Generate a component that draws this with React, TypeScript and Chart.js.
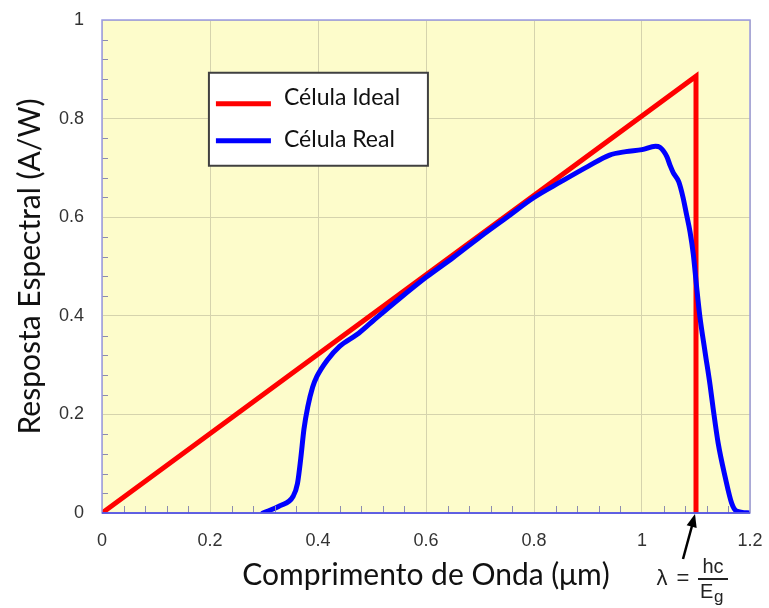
import React, { useEffect, useRef } from "react";
import { Chart, registerables } from "chart.js";

Chart.register(...registerables);

// Ideal cell: linear response up to the cutoff wavelength, then drops to zero
const idealX = [0, 1.1, 1.1];
const idealY = [0, 0.886, 0];

// Real cell: measured spectral response
const realX = [
  0.298, 0.33, 0.354, 0.362, 0.368, 0.374, 0.381, 0.39, 0.398, 0.417, 0.44, 0.472,
  0.5, 0.55, 0.6, 0.65, 0.7, 0.75, 0.8, 0.85, 0.9, 0.94, 0.97, 1.0, 1.025, 1.033,
  1.046, 1.052, 1.058, 1.068, 1.076, 1.082, 1.089, 1.095, 1.101, 1.107, 1.117, 1.126,
  1.132, 1.141, 1.154, 1.166, 1.175, 1.2,
];
const realY = [
  0.0, 0.015, 0.034, 0.06, 0.11, 0.17, 0.215, 0.255, 0.277, 0.31, 0.338, 0.362,
  0.388, 0.434, 0.478, 0.518, 0.56, 0.6, 0.64, 0.672, 0.703, 0.726, 0.733, 0.737,
  0.744, 0.742, 0.723, 0.705, 0.69, 0.672, 0.64, 0.608, 0.57, 0.525, 0.46, 0.4,
  0.325, 0.26, 0.21, 0.142, 0.073, 0.02, 0.004, 0.0,
];

const xMin = 0;
const xMax = 1.2;
const yMin = 0;
const yMax = 1;
const majorStep = 0.2;
const minorStep = 0.04;

const legendLabels = ["Célula Ideal", "Célula Real"];
const xTitle = "Comprimento de Onda (\u03bcm)";
const yTitle = "Resposta Espectral (A/W)";

const RED = "#ff0000";
const BLUE = "#0000ff";

const fmt = (v: number) => String(Number(v.toFixed(2)));

export default function App() {
  const ref = useRef<HTMLCanvasElement | null>(null);

  useEffect(() => {
    const canvas = ref.current;
    if (!canvas) return;

    const plotDecor = {
      id: "plotDecor",
      beforeDraw(chart: any) {
        const { ctx, chartArea: a } = chart;
        ctx.save();
        ctx.fillStyle = "#fdfccb";
        ctx.fillRect(a.left, a.top, a.right - a.left, a.bottom - a.top);
        ctx.restore();
      },
      afterDatasetsDraw(chart: any) {
        const { ctx, chartArea: a, scales } = chart;
        const xs = scales.x;
        const ys = scales.y;
        ctx.save();
        // minor ticks along the bottom and left edges
        ctx.strokeStyle = "#8c8cb0";
        ctx.lineWidth = 1;
        const nx = Math.round((xMax - xMin) / minorStep);
        for (let i = 1; i < nx; i++) {
          if (i % 5 === 0) continue;
          const px = Math.round(xs.getPixelForValue(xMin + i * minorStep)) + 0.5;
          ctx.beginPath();
          ctx.moveTo(px, a.bottom);
          ctx.lineTo(px, a.bottom - 7);
          ctx.stroke();
        }
        const ny = Math.round((yMax - yMin) / minorStep);
        for (let i = 1; i < ny; i++) {
          if (i % 5 === 0) continue;
          const py = Math.round(ys.getPixelForValue(yMin + i * minorStep)) + 0.5;
          ctx.beginPath();
          ctx.moveTo(a.left, py);
          ctx.lineTo(a.left + 6, py);
          ctx.stroke();
        }
        // frame
        ctx.strokeStyle = "#9a9ae2";
        ctx.lineWidth = 1.5;
        ctx.strokeRect(a.left, a.top, a.right - a.left, a.bottom - a.top);
        ctx.strokeStyle = "#4646e6";
        ctx.beginPath();
        ctx.moveTo(a.left, a.bottom);
        ctx.lineTo(a.right, a.bottom);
        ctx.stroke();
        ctx.restore();
      },
      afterDraw(chart: any) {
        const { ctx, scales } = chart;
        const xs = scales.x;
        const ys = scales.y;
        ctx.save();

        // legend box
        const lx = xs.getPixelForValue(0.198);
        const ly = ys.getPixelForValue(0.893);
        const lw = 219;
        const lh = 93;
        ctx.fillStyle = "#ffffff";
        ctx.fillRect(lx, ly, lw, lh);
        ctx.strokeStyle = "#404040";
        ctx.lineWidth = 2;
        ctx.strokeRect(lx, ly, lw, lh);
        const colors = [RED, BLUE];
        const rows = [31, 68];
        ctx.font = '23px Lato, "Liberation Sans", sans-serif';
        ctx.textBaseline = "middle";
        ctx.textAlign = "left";
        legendLabels.forEach((label, i) => {
          ctx.strokeStyle = colors[i];
          ctx.lineWidth = 5;
          ctx.beginPath();
          ctx.moveTo(lx + 7, ly + rows[i]);
          ctx.lineTo(lx + 62, ly + rows[i]);
          ctx.stroke();
          ctx.fillStyle = "#111111";
          ctx.fillText(label, lx + 75, ly + rows[i] - (i === 0 ? 6 : 1));
        });

        // cutoff wavelength annotation
        const tx = xs.getPixelForValue(idealX[1]);
        const ty = ys.getPixelForValue(0);
        const tipX = tx - 1;
        const tipY = ty + 1;
        const tailX = tx - 13;
        const tailY = ty + 46;
        ctx.strokeStyle = "#000000";
        ctx.fillStyle = "#000000";
        ctx.lineWidth = 2.5;
        ctx.beginPath();
        ctx.moveTo(tailX, tailY);
        ctx.lineTo(tipX - 2.5, tipY + 10);
        ctx.stroke();
        const ang = Math.atan2(tipY - tailY, tipX - tailX);
        ctx.beginPath();
        ctx.moveTo(tipX, tipY);
        ctx.lineTo(tipX - 14 * Math.cos(ang - 0.38), tipY - 14 * Math.sin(ang - 0.38));
        ctx.lineTo(tipX - 14 * Math.cos(ang + 0.38), tipY - 14 * Math.sin(ang + 0.38));
        ctx.closePath();
        ctx.fill();

        ctx.fillStyle = "#222222";
        ctx.font = '22px "Liberation Sans", Arial, sans-serif';
        ctx.textBaseline = "middle";
        ctx.textAlign = "center";
        ctx.fillText("\u03bb", tx - 34, ty + 66);
        ctx.fillText("=", tx - 13, ty + 66);
        ctx.font = '20px "Liberation Sans", Arial, sans-serif';
        ctx.fillText("hc", tx + 17, ty + 54);
        ctx.fillRect(tx + 2, ty + 65, 30, 2);
        ctx.textAlign = "left";
        ctx.fillText("E", tx + 4, ty + 79);
        ctx.font = '17px "Liberation Sans", Arial, sans-serif';
        ctx.fillText("g", tx + 18, ty + 84);
        ctx.restore();
      },
    };

    const chart = new Chart(canvas, {
      type: "scatter",
      data: {
        datasets: [
          {
            label: legendLabels[1],
            data: realX.map((x, i) => ({ x, y: realY[i] })),
            showLine: true,
            borderColor: BLUE,
            borderWidth: 5,
            pointRadius: 0,
            cubicInterpolationMode: "monotone",
            borderJoinStyle: "round",
            borderCapStyle: "round",
            order: 0,
          },
          {
            label: legendLabels[0],
            data: idealX.map((x, i) => ({ x, y: idealY[i] })),
            showLine: true,
            borderColor: RED,
            borderWidth: 5,
            pointRadius: 0,
            tension: 0,
            borderJoinStyle: "miter",
            order: 1,
          },
        ],
      },
      options: {
        responsive: false,
        animation: false,
        layout: { padding: { top: 20, right: 19, left: 0, bottom: 0 } },
        plugins: {
          legend: { display: false },
          tooltip: { enabled: false },
        },
        scales: {
          x: {
            type: "linear",
            min: xMin,
            max: xMax,
            afterFit(scale: any) {
              scale.height = 95;
              scale.paddingLeft = 0;
              scale.paddingRight = 0;
            },
            ticks: {
              stepSize: majorStep,
              padding: 17,
              color: "#333333",
              font: { family: '"Liberation Sans", Arial, sans-serif', size: 18 },
              callback: (v: any) => fmt(Number(v)),
            },
            grid: { color: "#d5d3ad", lineWidth: 1, drawTicks: false },
            border: { display: false },
            title: {
              display: true,
              text: xTitle,
              color: "#111111",
              font: { family: 'Lato, "Liberation Sans", sans-serif', size: 30 },
              padding: { top: 0, bottom: 15 },
            },
          },
          y: {
            type: "linear",
            min: yMin,
            max: yMax,
            afterFit(scale: any) {
              scale.width = 102;
              scale.paddingTop = 0;
              scale.paddingBottom = 0;
            },
            ticks: {
              stepSize: majorStep,
              padding: 18,
              color: "#333333",
              font: { family: '"Liberation Sans", Arial, sans-serif', size: 18 },
              callback: (v: any) => fmt(Number(v)),
            },
            grid: { color: "#d5d3ad", lineWidth: 1, drawTicks: false },
            border: { display: false },
            title: {
              display: true,
              text: yTitle,
              color: "#111111",
              font: { family: 'Lato, "Liberation Sans", sans-serif', size: 30 },
              padding: { top: 12, bottom: 0 },
            },
          },
        },
      },
      plugins: [plotDecor],
    } as any);

    return () => chart.destroy();
  }, []);

  return (
    <div style={{ position: "absolute", left: 0, top: 0, width: 769, height: 608, background: "#ffffff" }}>
      <canvas ref={ref} width={769} height={608} style={{ display: "block", width: 769, height: 608 }} />
    </div>
  );
}
